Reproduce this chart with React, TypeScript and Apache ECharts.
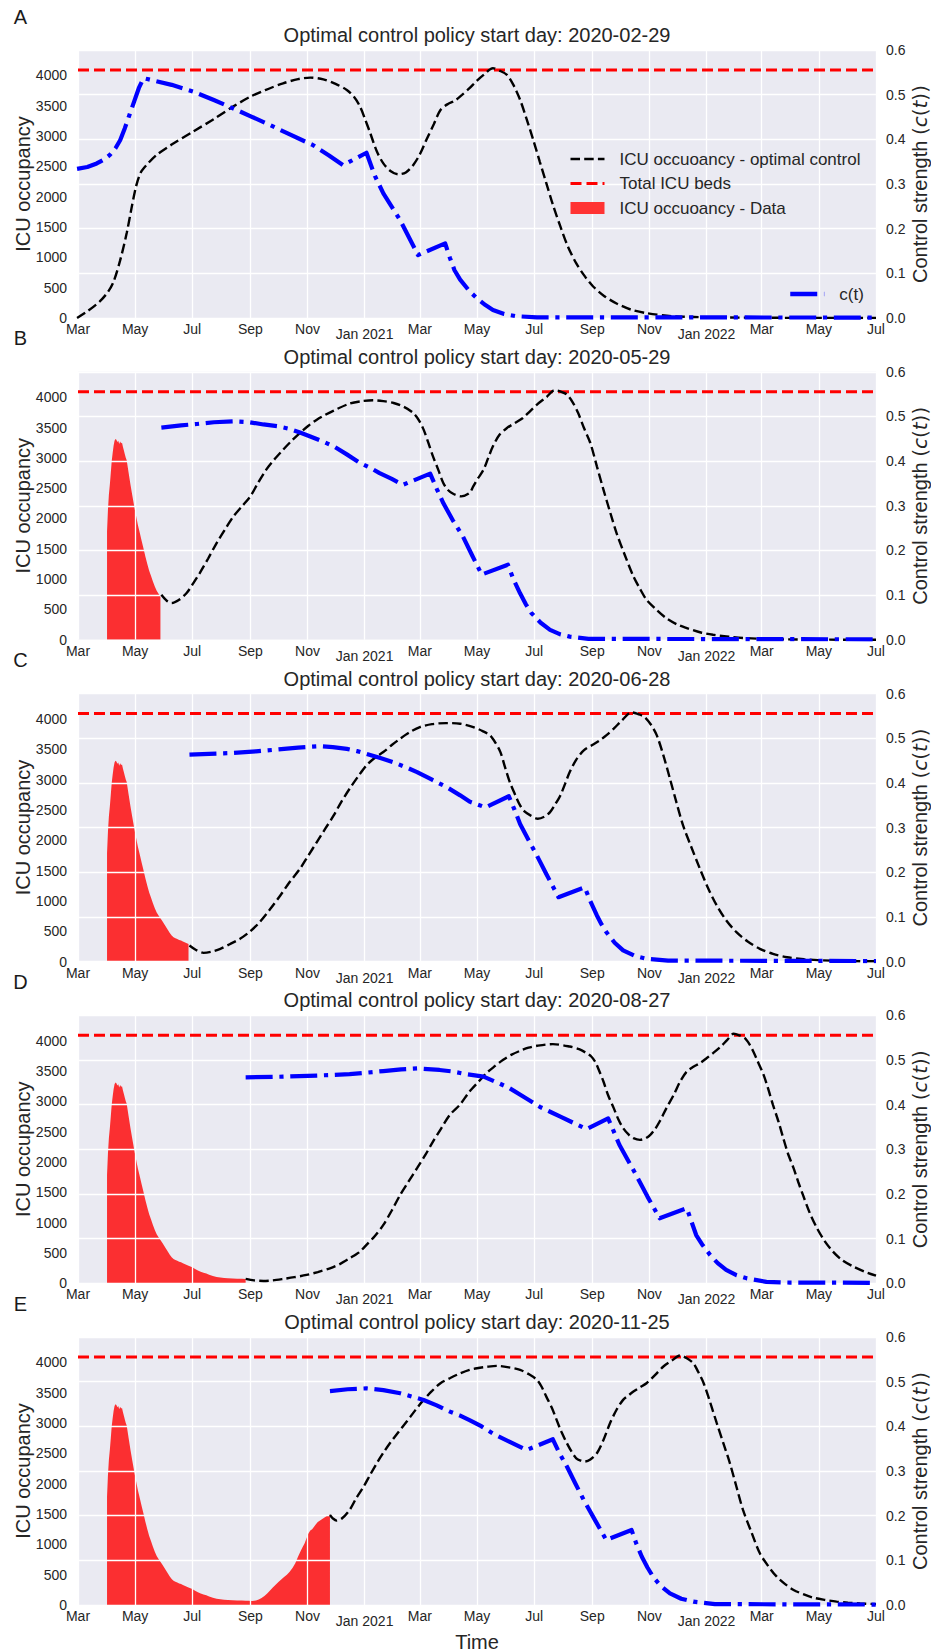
import React, { useEffect, useRef } from 'react';
import * as echarts from 'echarts';

const FONT = "'Liberation Sans', Arial, Helvetica, sans-serif";
const TEXT = '#262626';

// x values: days since 2020-03-01
const ORIGIN = '2020-03-01';
const START_DATES = ['2020-02-29', '2020-05-29', '2020-06-28', '2020-08-27', '2020-11-25'];
const PANEL_LETTERS = ['A', 'B', 'C', 'D', 'E'];
const TICK_DATES = ['2020-03-01', '2020-05-01', '2020-07-01', '2020-09-01', '2020-11-01', '2021-01-01', '2021-03-01', '2021-05-01', '2021-07-01', '2021-09-01', '2021-11-01', '2022-01-01', '2022-03-01', '2022-05-01', '2022-07-01'];
const TICK_LABELS = ['Mar', 'May', 'Jul', 'Sep', 'Nov', 'Jan 2021', 'Mar', 'May', 'Jul', 'Sep', 'Nov', 'Jan 2022', 'Mar', 'May', 'Jul'];
const ICU_TICKS = [0, 500, 1000, 1500, 2000, 2500, 3000, 3500, 4000];
const ICU_MAX = 4420;
const CONTROL_MAX = 0.6;
const ICU_BEDS = 4090;

// observed ICU occupancy [day, value]
const ICU_DATA = [[31,1790],[32,2150],[33,2400],[34,2560],[35,2750],[36,2950],[37,3080],[38,3200],[39,3280],[40,3310],[41,3300],[42,3260],[43,3280],[44,3230],[45,3270],[46,3240],[47,3250],[48,3180],[49,3120],[50,3060],[51,3000],[52,2960],[54,2760],[56,2560],[58,2380],[60,2200],[62,2040],[64,1890],[66,1760],[68,1630],[70,1500],[72,1370],[74,1250],[76,1140],[78,1050],[80,960],[82,880],[84,810],[86,760],[88,715],[90,670],[92,620],[94,570],[96,520],[98,470],[100,430],[102,400],[104,385],[106,370],[108,355],[110,345],[112,330],[115,310],[118,290],[120,275],[122,265],[125,235],[128,210],[131,190],[134,175],[137,160],[140,140],[144,120],[148,105],[152,95],[156,88],[160,82],[165,78],[170,76],[175,74],[179,72],[182,70],[186,68],[190,75],[193,90],[196,115],[199,150],[202,190],[205,240],[208,290],[211,335],[214,380],[217,420],[220,460],[223,500],[226,550],[229,610],[232,690],[235,800],[238,900],[240,960],[242,1020],[244,1100],[246,1180],[248,1230],[250,1250],[252,1290],[254,1330],[256,1370],[258,1390],[260,1410],[262,1430],[264,1450],[266,1470],[268,1485],[269,1500]];

// optimal-control ICU occupancy [day, value]
const OPT_A = [[-1,0],[10,110],[23,270],[32,430],[38,600],[45,950],[52,1400],[57,1800],[62,2170],[67,2400],[73,2520],[84,2690],[100,2860],[123,3075],[145,3280],[166,3490],[184,3650],[200,3760],[219,3870],[235,3940],[248,3965],[262,3935],[275,3860],[287,3760],[295,3640],[301,3490],[306,3300],[312,3050],[319,2750],[326,2550],[334,2420],[342,2370],[350,2400],[358,2525],[365,2700],[372,2940],[380,3200],[387,3430],[395,3530],[402,3580],[410,3680],[418,3790],[425,3900],[433,4010],[443,4120],[450,4080],[458,4010],[465,3840],[472,3600],[479,3280],[486,2940],[493,2580],[500,2225],[507,1870],[515,1510],[523,1180],[532,900],[541,690],[550,520],[562,360],[575,240],[590,140],[607,80],[635,30],[680,10],[750,3],[852,1]];
const OPT_B = [[89,742],[95,640],[100,605],[108,660],[116,770],[123,930],[130,1100],[139,1340],[148,1595],[157,1820],[166,2035],[175,2200],[184,2365],[192,2580],[201,2805],[210,2980],[219,3135],[228,3280],[237,3410],[246,3530],[255,3630],[264,3710],[273,3780],[290,3895],[303,3935],[315,3950],[326,3935],[337,3905],[348,3840],[358,3740],[364,3620],[369,3465],[374,3250],[379,3025],[385,2790],[390,2585],[395,2470],[401,2404],[409,2365],[418,2420],[422,2530],[427,2660],[433,2805],[438,3000],[443,3190],[450,3380],[458,3493],[466,3570],[475,3658],[482,3760],[490,3878],[500,4000],[509,4115],[516,4090],[522,4043],[528,3920],[534,3740],[540,3500],[547,3245],[554,2860],[561,2475],[568,2110],[575,1760],[584,1390],[593,1045],[600,840],[607,660],[618,490],[628,358],[640,250],[650,193],[665,120],[678,82],[695,50],[710,30],[740,10],[800,2],[852,0]];
const OPT_C = [[119,264],[126,190],[134,143],[142,160],[152,209],[162,285],[173,374],[184,500],[194,649],[205,860],[216,1089],[226,1310],[237,1530],[246,1750],[255,1969],[264,2190],[273,2409],[281,2630],[290,2850],[299,3050],[308,3234],[317,3360],[326,3454],[335,3570],[344,3675],[354,3780],[365,3866],[378,3915],[393,3932],[408,3922],[422,3866],[432,3800],[440,3729],[446,3600],[451,3454],[456,3200],[461,2959],[467,2740],[472,2574],[477,2470],[483,2409],[491,2355],[498,2390],[504,2464],[509,2580],[515,2739],[520,2930],[525,3124],[532,3330],[540,3482],[549,3570],[557,3647],[564,3730],[572,3840],[581,3980],[591,4110],[598,4080],[605,4031],[612,3900],[618,3729],[625,3400],[632,3015],[639,2620],[646,2244],[655,1880],[664,1530],[673,1200],[682,924],[692,680],[703,484],[715,330],[728,209],[742,125],[757,71],[775,38],[790,22],[820,8],[852,3]];
const OPT_D = [[179,71],[188,48],[198,38],[208,48],[219,71],[231,100],[244,137],[256,185],[269,247],[280,320],[290,412],[300,510],[308,632],[317,780],[326,962],[335,1200],[344,1457],[353,1680],[362,1898],[371,2120],[379,2337],[388,2560],[397,2777],[408,2950],[418,3162],[428,3330],[436,3465],[445,3580],[454,3685],[463,3770],[472,3833],[481,3885],[490,3916],[507,3944],[525,3904],[535,3860],[543,3795],[548,3740],[552,3657],[556,3520],[561,3327],[566,3100],[572,2888],[577,2700],[582,2558],[588,2450],[593,2393],[600,2365],[606,2390],[611,2447],[616,2540],[621,2667],[628,2880],[636,3107],[643,3330],[650,3492],[657,3570],[664,3630],[671,3710],[678,3795],[686,3900],[693,4010],[700,4115],[706,4090],[712,4043],[717,3940],[721,3822],[726,3650],[732,3437],[737,3200],[742,2942],[748,2660],[753,2393],[758,2140],[764,1898],[769,1670],[774,1457],[781,1170],[789,908],[797,700],[806,522],[816,380],[828,274],[840,190],[852,125]];
const OPT_E = [[269,1485],[272,1430],[276,1392],[282,1430],[290,1568],[297,1760],[305,1953],[312,2150],[319,2338],[326,2510],[333,2668],[342,2850],[351,3025],[360,3210],[369,3383],[378,3530],[387,3658],[397,3740],[408,3820],[418,3878],[426,3905],[437,3930],[447,3944],[460,3920],[472,3878],[482,3800],[490,3713],[495,3600],[500,3437],[506,3250],[511,3053],[516,2860],[522,2668],[527,2530],[532,2420],[537,2380],[541,2365],[547,2400],[554,2503],[561,2720],[568,2998],[575,3220],[582,3383],[588,3460],[593,3520],[600,3590],[607,3658],[616,3790],[625,3933],[634,4030],[643,4115],[650,4070],[657,3988],[662,3850],[668,3658],[675,3340],[682,2998],[689,2670],[696,2338],[703,1950],[710,1568],[719,1200],[728,853],[737,640],[746,467],[755,345],[764,248],[775,175],[785,121],[797,85],[810,55],[822,38],[835,25],[852,15]];

// control strength c(t) [day, value]
const CTRL_A = [[-1,0.334],[10,0.338],[20,0.346],[28,0.355],[34,0.365],[40,0.38],[45,0.398],[50,0.425],[55,0.455],[60,0.485],[65,0.515],[70,0.537],[74,0.535],[100,0.522],[123,0.507],[145,0.488],[166,0.469],[185,0.451],[201,0.436],[225,0.412],[251,0.387],[268,0.364],[283,0.342],[308,0.370],[317,0.318],[326,0.279],[344,0.219],[363,0.141],[392,0.167],[397,0.135],[402,0.107],[408,0.086],[418,0.060],[426,0.044],[435,0.029],[443,0.018],[455,0.009],[468,0.004],[490,0.0015],[852,0.001]];
const CTRL_B = [[89,0.475],[110,0.480],[127,0.483],[145,0.487],[166,0.489],[183,0.487],[198,0.482],[213,0.478],[226,0.472],[237,0.464],[248,0.455],[260,0.445],[273,0.433],[287,0.415],[301,0.396],[312,0.385],[322,0.373],[335,0.360],[347,0.347],[376,0.372],[383,0.338],[390,0.306],[400,0.268],[411,0.231],[421,0.188],[431,0.146],[459,0.168],[465,0.135],[472,0.104],[478,0.080],[484,0.060],[494,0.038],[504,0.022],[515,0.012],[525,0.007],[545,0.002],[852,0.001]];
const CTRL_C = [[119,0.463],[140,0.465],[166,0.467],[190,0.4705],[212,0.4745],[235,0.479],[258,0.482],[272,0.480],[287,0.476],[298,0.471],[308,0.465],[322,0.456],[337,0.446],[350,0.435],[362,0.424],[378,0.407],[394,0.390],[408,0.372],[418,0.358],[426,0.352],[435,0.345],[460,0.370],[466,0.340],[472,0.308],[481,0.272],[490,0.237],[500,0.196],[513,0.144],[541,0.166],[547,0.135],[554,0.103],[559,0.083],[564,0.066],[573,0.042],[582,0.025],[595,0.012],[607,0.006],[630,0.002],[852,0.001]];
const CTRL_D = [[179,0.461],[219,0.4625],[255,0.465],[290,0.468],[326,0.475],[345,0.479],[363,0.481],[386,0.4775],[400,0.474],[415,0.468],[433,0.4625],[447,0.450],[461,0.4365],[477,0.416],[493,0.395],[504,0.384],[515,0.373],[529,0.359],[543,0.345],[566,0.369],[572,0.340],[578,0.310],[587,0.276],[596,0.242],[608,0.194],[621,0.1455],[650,0.168],[655,0.138],[660,0.108],[667,0.085],[675,0.063],[683,0.045],[692,0.030],[703,0.018],[714,0.011],[735,0.003],[760,0.0015],[852,0.001]];
const CTRL_E = [[269,0.479],[288,0.483],[308,0.485],[326,0.481],[344,0.474],[356,0.467],[369,0.459],[383,0.447],[397,0.433],[408,0.424],[418,0.414],[430,0.401],[443,0.384],[461,0.365],[479,0.347],[507,0.371],[514,0.340],[522,0.310],[531,0.272],[540,0.235],[552,0.190],[564,0.1455],[591,0.168],[596,0.138],[602,0.108],[608,0.084],[614,0.063],[622,0.043],[632,0.026],[644,0.014],[657,0.0075],[680,0.002],[852,0.001]];

const OPT_SERIES = [OPT_A, OPT_B, OPT_C, OPT_D, OPT_E];
const CTRL_SERIES = [CTRL_A, CTRL_B, CTRL_C, CTRL_D, CTRL_E];

const NAME_OPT = 'ICU occuoancy - optimal control';
const NAME_BEDS = 'Total ICU beds';
const NAME_DATA = 'ICU occuoancy - Data';
const NAME_CTRL = 'c(t)';

const dayOf = (iso: string) => Math.round((Date.parse(iso) - Date.parse(ORIGIN)) / 86400000);

const BLACK_DASH = [9.5, 4.2];
const RED_DASH = [11, 5];
const BLUE_DASH = [27, 6.7, 4.2, 6.7];

function buildOption() {
  const tickDays = TICK_DATES.map(dayOf);
  const xMax = tickDays[tickDays.length - 1];
  const labelOf = new Map<number, string>();
  tickDays.forEach((d, i) => labelOf.set(d, TICK_LABELS[i]));

  const grids: any[] = [];
  const xAxes: any[] = [];
  const yAxes: any[] = [];
  const series: any[] = [];
  const elements: any[] = [];

  const GL = 78, GW = 798, GH = 268;
  for (let i = 0; i < 5; i++) {
    const top = 50 + i * 321.75;
    const startDay = dayOf(START_DATES[i]);
    grids.push({
      left: GL, top, width: GW, height: GH, show: true, backgroundColor: '#EAEAF2', borderWidth: 0,
      containLabel: false, outerBoundsMode: 'none',
    });
    xAxes.push({
      type: 'value', gridIndex: i, min: 0, max: xMax, z: 1.5,
      axisLine: { show: false },
      axisTick: { show: false, customValues: tickDays },
      axisLabel: {
        customValues: tickDays, margin: 4, hideOverlap: false,
        formatter: (v: number) => {
          const s = labelOf.get(Math.round(v)) || '';
          return s.indexOf('Jan') === 0 ? '{j|' + s + '}' : '{n|' + s + '}';
        },
        rich: {
          n: { fontSize: 14, fontFamily: FONT, color: TEXT },
          j: { fontSize: 14, fontFamily: FONT, color: TEXT, padding: [5, 0, 0, 0] },
        },
      },
      splitLine: { show: true, lineStyle: { color: '#ffffff', width: 1.3 } },
    });
    yAxes.push({
      type: 'value', gridIndex: i, position: 'left', min: 0, max: ICU_MAX, z: 1.5,
      name: 'ICU occupancy', nameLocation: 'middle', nameGap: 45, nameMoveOverlap: false,
      nameTextStyle: { fontSize: 20, fontFamily: FONT, color: TEXT },
      axisLine: { show: false }, axisTick: { show: false }, splitLine: { show: false },
      axisLabel: {
        customValues: ICU_TICKS, margin: 11, fontSize: 14, fontFamily: FONT, color: TEXT,
        formatter: (v: number) => String(Math.round(v)),
      },
    });
    yAxes.push({
      type: 'value', gridIndex: i, position: 'right', min: 0, max: CONTROL_MAX, interval: 0.1, z: 1.5,
      name: '{n|Control strength }{m|(}{i|c}{m|(}{i|t}{m|))}', nameLocation: 'middle', nameGap: 34, nameRotate: 90,
      nameMoveOverlap: false,
      nameTextStyle: {
        fontSize: 20, fontFamily: FONT, color: TEXT,
        rich: {
          n: { fontSize: 20, fontFamily: FONT, color: TEXT },
          m: { fontSize: 20, fontFamily: "'DejaVu Sans'", color: TEXT },
          i: { fontSize: 20, fontFamily: "'DejaVu Sans'", fontStyle: 'italic', color: TEXT },
        },
      },
      axisLine: { show: false }, axisTick: { show: false },
      axisLabel: { margin: 10, fontSize: 14, fontFamily: FONT, color: TEXT, formatter: (v: number) => v.toFixed(1) },
      splitLine: { show: true, lineStyle: { color: '#ffffff', width: 1.3 } },
    });

    const dataPart = ICU_DATA.filter((p) => p[0] <= startDay);
    if (dataPart.length > 0) {
      series.push({
        name: NAME_DATA, type: 'line', xAxisIndex: i, yAxisIndex: 2 * i, data: dataPart,
        symbol: 'none', silent: true, z: 1,
        itemStyle: { color: '#ff3333' },
        lineStyle: { width: 0, opacity: 0 },
        areaStyle: { color: 'rgba(255,0,0,0.8)', opacity: 1 },
      });
    }
    series.push({
      name: NAME_BEDS, type: 'line', xAxisIndex: i, yAxisIndex: 2 * i,
      data: [[0, ICU_BEDS], [xMax, ICU_BEDS]], symbol: 'none', silent: true, z: 2,
      itemStyle: { color: '#ff0000' },
      lineStyle: { color: '#ff0000', width: 3, type: RED_DASH },
    });
    series.push({
      name: NAME_OPT, type: 'line', xAxisIndex: i, yAxisIndex: 2 * i,
      data: OPT_SERIES[i], symbol: 'none', silent: true, smooth: 0.3, z: 3,
      itemStyle: { color: '#000000' },
      lineStyle: { color: '#000000', width: 2.4, type: BLACK_DASH },
    });
    series.push({
      name: NAME_CTRL, type: 'line', xAxisIndex: i, yAxisIndex: 2 * i + 1,
      data: CTRL_SERIES[i], symbol: 'none', silent: true, smooth: false, z: 4,
      itemStyle: { color: '#0000ff' },
      lineStyle: { color: '#0000ff', width: 4.2, type: BLUE_DASH, cap: 'butt', join: 'round' },
    });

    elements.push({
      type: 'text', x: 20.5, y: top - 33.5, silent: true,
      style: { text: PANEL_LETTERS[i], fontSize: 20, fontFamily: FONT, fill: '#1a1a1a', textAlign: 'center', textVerticalAlign: 'middle', align: 'center', verticalAlign: 'middle' },
    });
    elements.push({
      type: 'text', x: GL + GW / 2, y: top - 15, silent: true,
      style: { text: 'Optimal control policy start day: ' + START_DATES[i], fontSize: 20, fontFamily: FONT, fill: TEXT, textAlign: 'center', textVerticalAlign: 'middle', align: 'center', verticalAlign: 'middle' },
    });
  }
  elements.push({
    type: 'text', x: GL + GW / 2, y: 1641.5, silent: true,
    style: { text: 'Time', fontSize: 20, fontFamily: FONT, fill: TEXT, textAlign: 'center', textVerticalAlign: 'middle', align: 'center', verticalAlign: 'middle' },
  });

  const legendText = { fontSize: 17, fontFamily: FONT, color: TEXT, padding: [0, 0, 0, 10] };
  return {
    animation: false,
    backgroundColor: '#ffffff',
    grid: grids,
    xAxis: xAxes,
    yAxis: yAxes,
    series,
    legend: [
      {
        orient: 'vertical', left: 569, top: 150.5, padding: 0, itemWidth: 34, itemHeight: 12, itemGap: 7.5,
        selectedMode: false, textStyle: legendText,
        data: [
          { name: NAME_OPT, itemStyle: { opacity: 0 }, lineStyle: { color: '#000000', width: 2.4, type: BLACK_DASH } },
          { name: NAME_BEDS, itemStyle: { opacity: 0 }, lineStyle: { color: '#ff0000', width: 3, type: RED_DASH } },
          { name: NAME_DATA, icon: 'rect', itemStyle: { color: '#ff3333', opacity: 1 } },
        ],
      },
      {
        orient: 'vertical', left: 788, top: 285.5, padding: 0, itemWidth: 34, itemHeight: 12,
        selectedMode: false, textStyle: legendText,
        data: [
          { name: NAME_CTRL, itemStyle: { opacity: 0 }, lineStyle: { color: '#0000ff', width: 4.5, type: BLUE_DASH } },
        ],
      },
    ],
    graphic: { elements },
  };
}

export default function App() {
  const ref = useRef<HTMLDivElement>(null);
  useEffect(() => {
    if (!ref.current) return;
    const chart = echarts.init(ref.current, undefined, { renderer: 'svg' });
    chart.setOption(buildOption() as any);
    return () => chart.dispose();
  }, []);
  return <div ref={ref} style={{ position: 'absolute', left: 0, top: 0, width: 931, height: 1652 }} />;
}
